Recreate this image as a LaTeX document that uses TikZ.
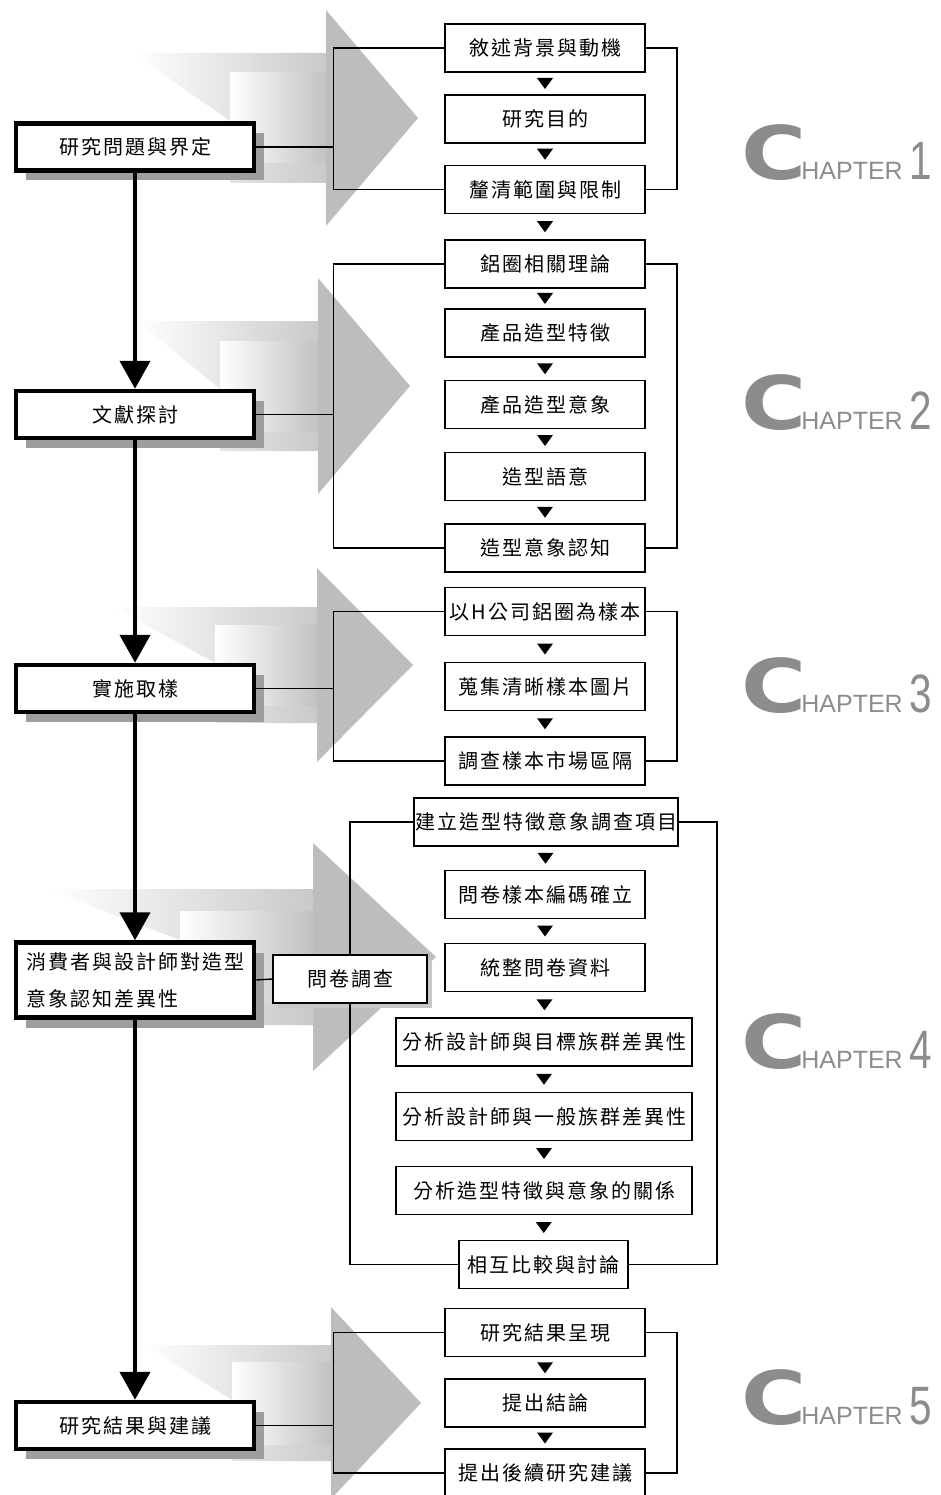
\documentclass[tikz,border=0pt]{standalone}
\usepackage{graphicx}
\usepackage{fontspec}
\setmainfont{Noto Sans CJK TC}
\newfontfamily\capfont{Liberation Sans}
\newfontfamily\bigcfont{DejaVu Sans}
\usetikzlibrary{arrows.meta,shadows,calc}

% spaced-out CJK text
\newcommand\lsend{LSEND}
\def\lsgap{2pt}
\newcommand\ls[1]{\lsnext#1\lsend}
\def\lsnext#1{\ifx#1\lsend\unskip\else#1\hskip\lsgap\relax\expandafter\lsnext\fi}

\tikzset{
  mainbox/.style={draw, line width=4.5pt, fill=white, minimum width=238pt, minimum height=47pt, inner sep=0pt,
    drop shadow={shadow xshift=10pt, shadow yshift=-10pt, fill=black!38, opacity=1}},
  stepbox/.style={draw, line width=1.6pt, fill=white, minimum width=200pt, minimum height=48pt, inner sep=0pt},
  link/.style={line width=1.4pt},
  flow/.style={line width=4.5pt, -{Triangle[width=30pt,length=28pt]}},
  chap/.style={text=black!45, inner sep=0pt, anchor=base west},
}

\begin{document}
\begin{tikzpicture}[x=1pt, y=-1pt, font=\fontsize{20pt}{37pt}\selectfont]
\useasboundingbox (0,0) rectangle (940,1495);
    % gray arrows
        \foreach \dx/\bx/\hx/\tx/\ty/\hh/\sh/\bh/\bt in {133/230/326/418/118/108/65/45/121, 137/220/318/410/386/108/65/45/389,
            113/215/317/413/665/97/58/40/663, 47/180/313/436/957/114/68/46/940, 144/232/331/421/1403/96/58/41/1400}{
            \shade[left color=white, right color=gray!42] (\dx,\ty-\sh) -- (\hx,\ty-\sh) -- (\hx,\ty+\sh) -- (\bx,\ty+\sh) -- (\bx,\bt) -- cycle;
            \shade[left color=white, right color=gray!48] (\bx,\ty-\bh) rectangle (\hx,\ty+\bh);
            \fill[gray!52] (\hx,\ty-\hh) -- (\tx,\ty) -- (\hx,\ty+\hh) -- cycle;
        }
    % main steps
        \node[mainbox] (M1) at (135,147) {\ls{研究問題與界定}};
        \node[mainbox] (M2) at (135,414.5) {\ls{文獻探討}};
        \node[mainbox] (M3) at (135,688.5) {\ls{實施取樣}};
        \node[mainbox, minimum height=75pt, align=left] (M4) at (135,980)
            {\ls{消費者與設計師對造型}\\\ls{意象認知差異性}};
        \node[mainbox] (M5) at (135,1425.5) {\ls{研究結果與建議}};
    % chapter 1
        \node[stepbox] (A1) at (545,48) {\ls{敘述背景與動機}};
        \node[stepbox] (A2) at (545,119) {\ls{研究目的}};
        \node[stepbox] (A3) at (545,189.5) {\ls{釐清範圍與限制}};
    % chapter 2
        \node[stepbox] (B1) at (545,264) {\ls{鋁圈相關理論}};
        \node[stepbox] (B2) at (545,333) {\ls{產品造型特徵}};
        \node[stepbox] (B3) at (545,404.5) {\ls{產品造型意象}};
        \node[stepbox] (B4) at (545,476.5) {\ls{造型語意}};
        \node[stepbox] (B5) at (545,548) {\ls{造型意象認知}};
    % chapter 3
        \node[stepbox] (C1) at (545,611.5) {\ls{以H公司鋁圈為樣本}};
        \node[stepbox] (C2) at (545,686.5) {\ls{蒐集清晰樣本圖片}};
        \node[stepbox] (C3) at (545,761) {\ls{調查樣本市場區隔}};
    % chapter 4
        \node[stepbox, minimum width=264pt] (D1) at (546,822) {\ls{建立造型特徵意象調查項目}};
        \node[stepbox] (D2) at (545,894.5) {\ls{問卷樣本編碼確立}};
        \node[stepbox] (D3) at (545,967.5) {\ls{統整問卷資料}};
        \node[stepbox, minimum width=296pt] (D4) at (544,1042) {\ls{分析設計師與目標族群差異性}};
        \node[stepbox, minimum width=296pt] (D5) at (544,1116.5) {\ls{分析設計師與一般族群差異性}};
        \node[stepbox, minimum width=296pt] (D6) at (544,1190.5) {\ls{分析造型特徵與意象的關係}};
        \node[stepbox, minimum width=169pt] (D7) at (543.5,1264.5) {\ls{相互比較與討論}};
        \node[stepbox, minimum width=154pt, drop shadow={shadow xshift=5pt, shadow yshift=-5pt, fill=black!22, opacity=1}] (Q) at (350,979) {\ls{問卷調查}};
    % chapter 5
        \node[stepbox] (E1) at (545,1332.5) {\ls{研究結果呈現}};
        \node[stepbox] (E2) at (545,1403) {\ls{提出結論}};
        \node[stepbox] (E3) at (545,1473) {\ls{提出後續研究建議}};
    % brackets
        \foreach \a/\b/\m in {A1/A3/M1, B1/B5/M2, C1/C3/M3, E1/E3/M5}{
            \path (\a.west) ++(-111,0) coordinate (L);
            \draw[link] (\a.west) -- (L) |- (\b.west);
            \draw[link] (\a.east) -- ++(31,0) |- (\b.east);
            \draw[link] (\m.east) -- (\m.east -| L);
        }
        \draw[link] (D1.west) -| (Q.north);
        \draw[link] (Q.south) |- (D7.west);
        \draw[link] (D1.east) -- ++(38,0) |- (D7.east);
        \draw[link] (M4.east) -- (Q.west);
    % flow
        \foreach \a/\b in {M1/M2, M2/M3, M3/M4, M4/M5}
            \draw[flow] (\a.south) -- (\b.north);
        \foreach \a/\b in {A1/A2, A2/A3, A3/B1, B1/B2, B2/B3, B3/B4, B4/B5, C1/C2, C2/C3,
            D1/D2, D2/D3, D3/D4, D4/D5, D5/D6, D6/D7, E1/E2, E2/E3}
            \fill ($(\a.south)!.5!(\b.north)$) ++(-8,-5.5) -- ++(16,0) -- ++(-8,11) -- cycle;
    % chapters
        \foreach \n/\y in {1/180, 2/429, 3/712, 4/1068, 5/1424}
            \node[chap] (ch\n) at (741,\y) {{\bigcfont\bfseries\fontsize{74pt}{74pt}\selectfont\scalebox{1.2}[1]{C}}\hspace{-5pt}%
                {\capfont\fontsize{25pt}{25pt}\selectfont HAPTER\hspace{7pt}\fontsize{54pt}{54pt}\selectfont\scalebox{0.75}[1]{\n}}};
\end{tikzpicture}
\end{document}
